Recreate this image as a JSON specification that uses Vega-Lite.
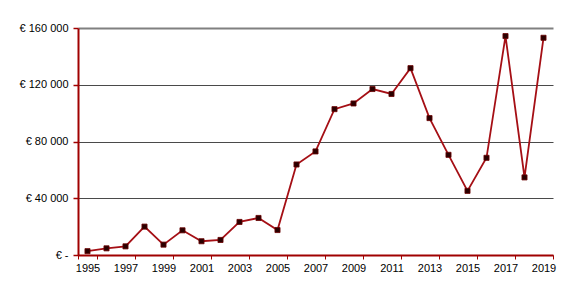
{
  "$schema": "https://vega.github.io/schema/vega-lite/v6.json",
  "width": 475,
  "height": 227,
  "autosize": {"type": "none"},
  "padding": {"left": 78, "top": 28, "right": 17, "bottom": 40},
  "background": "white",
  "config": {
    "view": {"stroke": null},
    "font": "Liberation Sans",
    "axis": {"labelFont": "Liberation Sans", "labelFontSize": 11, "labelColor": "#000000", "title": null}
  },
  "data": {
    "values": [
      {"year": 1995, "value": 2700},
      {"year": 1996, "value": 4700},
      {"year": 1997, "value": 6100},
      {"year": 1998, "value": 20000},
      {"year": 1999, "value": 7300},
      {"year": 2000, "value": 17400},
      {"year": 2001, "value": 9700},
      {"year": 2002, "value": 10600},
      {"year": 2003, "value": 23300},
      {"year": 2004, "value": 26100},
      {"year": 2005, "value": 17600},
      {"year": 2006, "value": 63800},
      {"year": 2007, "value": 73000},
      {"year": 2008, "value": 102800},
      {"year": 2009, "value": 106800},
      {"year": 2010, "value": 117000},
      {"year": 2011, "value": 113500},
      {"year": 2012, "value": 131700},
      {"year": 2013, "value": 96500},
      {"year": 2014, "value": 70600},
      {"year": 2015, "value": 45200},
      {"year": 2016, "value": 68500},
      {"year": 2017, "value": 154300},
      {"year": 2018, "value": 54700},
      {"year": 2019, "value": 153100}
    ]
  },
  "encoding": {
    "x": {
      "field": "year",
      "type": "ordinal",
      "scale": {"type": "band", "paddingInner": 0, "paddingOuter": 0},
      "axis": {
        "values": [1995, 1997, 1999, 2001, 2003, 2005, 2007, 2009, 2011, 2013, 2015, 2017, 2019],
        "labelAngle": 0,
        "tickBand": "extent",
        "domainColor": "#a00000",
        "domainWidth": 2,
        "tickColor": "#a00000",
        "tickSize": 4,
        "tickWidth": 1,
        "labelPadding": 3,
        "grid": false
      }
    },
    "y": {
      "field": "value",
      "type": "quantitative",
      "scale": {"domain": [0, 160000], "nice": false},
      "axis": {
        "values": [0, 40000, 80000, 120000, 160000],
        "labelExpr": "datum.value == 0 ? '€ -' : '€ ' + format(datum.value / 1000, 'd') + ' 000'",
        "domainColor": "#a00000",
        "domainWidth": 2,
        "tickColor": "#a00000",
        "tickSize": 5,
        "tickWidth": 1.5,
        "labelPadding": 5,
        "grid": true,
        "gridColor": {"condition": {"test": "datum.value == 160000", "value": "#808080"}, "value": "#4a4a4a"},
        "gridWidth": {"condition": {"test": "datum.value == 160000", "value": 2}, "value": 1}
      }
    }
  },
  "layer": [
    {
      "mark": {"type": "line", "color": "#a50f15", "strokeWidth": 1.8}
    },
    {
      "mark": {"type": "square", "size": 26, "filled": true, "color": "#2a0000", "stroke": "#6b0000", "strokeWidth": 0.8, "opacity": 1}
    }
  ]
}
